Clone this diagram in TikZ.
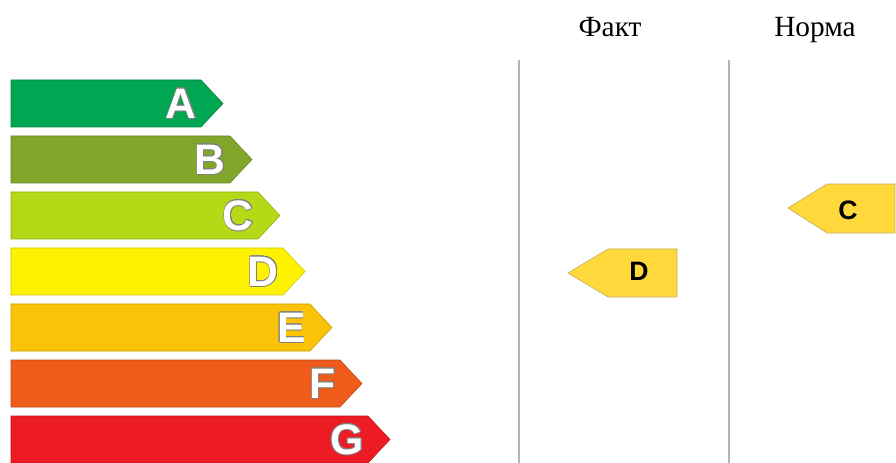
\documentclass[tikz,border=0pt]{standalone}
\usepackage{fontspec}
\setmainfont{Liberation Serif}
\newfontfamily\labelfont{Liberation Sans}
\usepackage{contour}
\contourlength{0.5pt}

\definecolor{clsA}{HTML}{00A651}
\definecolor{clsB}{HTML}{82A62B}
\definecolor{clsC}{HTML}{B5D817}
\definecolor{clsD}{HTML}{FFF200}
\definecolor{clsE}{HTML}{FBC308}
\definecolor{clsF}{HTML}{EF5B1A}
\definecolor{clsG}{HTML}{ED1C24}
\definecolor{tagfill}{HTML}{FFD83B}
\definecolor{sepgray}{HTML}{B4B4B4}

\begin{document}
\begin{tikzpicture}[x=0.75pt,y=-0.75pt,
    bar/.style={draw=#1!80!black, fill=#1, line width=0.4pt},
    letter/.style={inner sep=0pt, text=white,
      font=\labelfont\bfseries\fontsize{32}{32}\selectfont},
    tag/.style={draw=tagfill!55!gray, fill=tagfill, line width=0.5pt},
    taglabel/.style={inner sep=0pt, font=\labelfont\bfseries\fontsize{20}{20}\selectfont},
    sep/.style={draw=sepgray, line width=1.2pt},
    head/.style={inner sep=0pt, anchor=base, font=\fontsize{22}{22}\selectfont}]
  \useasboundingbox (0,0) rectangle (896,463);
  % scale bars A..G
  \foreach \name/\col/\xend [count=\i from 0] in
      {A/clsA/201, B/clsB/230, C/clsC/258, D/clsD/283, E/clsE/310, F/clsF/340, G/clsG/368} {
    \pgfmathsetmacro{\ytop}{80+56*\i}
    \draw[bar=\col] (11,\ytop) -- (\xend,\ytop) -- (\xend+22,\ytop+23.5)
      -- (\xend,\ytop+47) -- (11,\ytop+47) -- cycle;
    \node[letter, anchor=east] (bar\name) at (\xend-4,\ytop+24) {\contour{gray}{\name}};
  }
  % column headers and separators
  \node[head] (fact) at (610,37) {Факт};
  \node[head] (norm) at (815,37) {Норма};
  \coordinate (sepL) at (519,60);
  \coordinate (sepR) at (729,60);
  \draw[sep] (sepL) -- (sepL |- 0,463);
  \draw[sep] (sepR) -- (sepR |- 0,463);
  % markers
  \draw[tag] (568,273) -- (608,249) -- (677,249) -- (677,297) -- (608,297) -- cycle;
  \node[taglabel] (factD) at (639,271) {D};
  \draw[tag] (788,208) -- (827,184) -- (895,184) -- (895,233) -- (827,233) -- cycle;
  \node[taglabel] (normC) at (848,210) {C};
\end{tikzpicture}
\end{document}
